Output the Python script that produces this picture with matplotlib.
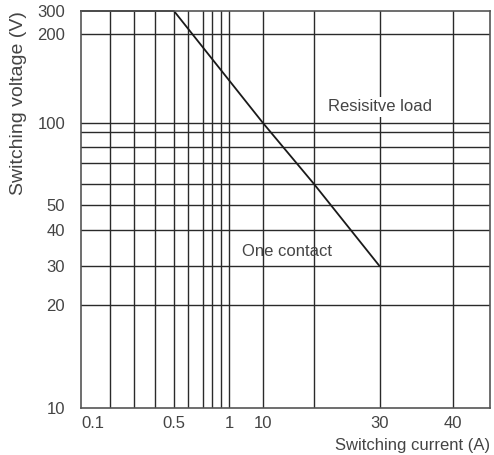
import numpy as np
import matplotlib
matplotlib.use("Agg")
import matplotlib.pyplot as plt

# data: switching capacity boundary (one contact, resistive load)
current = [0.1, 0.5, 10, 20, 30]
voltage = [300, 300, 100, 60, 30]

x_ticks = [0.1, 0.5, 1, 10, 30, 40]
y_ticks = [10, 20, 30, 40, 50, 100, 200, 300]
x_grid = [0.2, 0.3, 0.4, 0.5, 0.6, 0.7, 0.8, 0.9, 1, 10, 20, 30, 40]
y_grid = [20, 30, 40, 50, 60, 70, 80, 90, 100, 200]

# the chart uses a hand-drawn, non-uniform scale: value -> relative position
x_scale_vals = [0.1, 0.2, 0.3, 0.4, 0.5, 0.6, 0.7, 0.8, 0.9, 1, 10, 20, 30, 40, 50]
x_scale_pos = [81, 110, 133.5, 154.5, 174, 187.5, 203, 212, 221, 229, 263, 314, 379.5, 453, 490]
y_scale_vals = [10, 20, 30, 40, 50, 60, 70, 80, 90, 100, 200, 300]
y_scale_pos = [407.5, 305, 266, 230, 205, 184, 163, 147, 132, 123, 34, 11]
y_scale_pos = [407.5 - p for p in y_scale_pos]


def piecewise(vals, pos):
    fwd = lambda v: np.interp(v, vals, pos)
    inv = lambda p: np.interp(p, pos, vals)
    return fwd, inv


plt.rcParams['font.family'] = ['Liberation Sans', 'DejaVu Sans']
text_color = '#444444'
line_color = '#2a2a2a'

fig = plt.figure(figsize=(4.94, 4.55), dpi=100)
ax = fig.add_axes([81 / 494, 1 - 407.5 / 455, (490 - 81) / 494, (407.5 - 11) / 455])

ax.set_xscale('function', functions=piecewise(x_scale_vals, x_scale_pos))
ax.set_yscale('function', functions=piecewise(y_scale_vals, y_scale_pos))
ax.set_xlim(0.1, 50)
ax.set_ylim(10, 300)

for xv in x_grid:
    ax.axvline(xv, color=line_color, lw=1.0, zorder=1)
for yv in y_grid:
    ax.axhline(yv, color=line_color, lw=1.0, zorder=1)

ax.plot(current, voltage, color='#1a1a1a', lw=1.3, zorder=2, clip_on=False)

ax.set_xticks(x_ticks)
ax.set_xticklabels([('%g' % v) for v in x_ticks])
ax.set_yticks(y_ticks)
ax.set_yticklabels([('%g' % v) for v in y_ticks])
ax.xaxis.set_minor_locator(plt.NullLocator())
ax.yaxis.set_minor_locator(plt.NullLocator())
ax.tick_params(axis='x', length=0, pad=6, labelsize=12, labelcolor=text_color)
ax.tick_params(axis='y', length=0, pad=11.5, labelsize=12, labelcolor=text_color)
ax.get_xticklabels()[0].set_horizontalalignment('left')

for sp in ax.spines.values():
    sp.set_color('#555555')
    sp.set_linewidth(1.2)

ax.set_xlabel('Switching current (A)', loc='right', fontsize=12, color=text_color, labelpad=5)
ax.set_ylabel('Switching voltage (V)', loc='top', fontsize=14, color=text_color, labelpad=7)

ax.text(30, 118, 'Resisitve load', ha='center', va='center', fontsize=12, color=text_color,
        bbox=dict(facecolor='white', edgecolor='none', pad=2), zorder=3)
ax.text(4.4, 33.9, 'One contact', ha='left', va='center', fontsize=12, color=text_color, zorder=3)

fig.savefig('out.png', dpi=100)
